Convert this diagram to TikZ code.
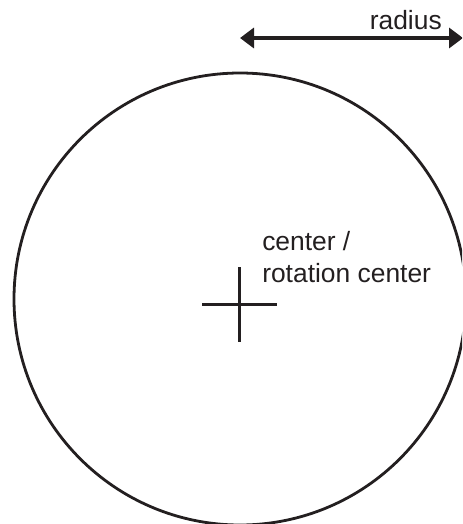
\documentclass[tikz,border=0pt]{standalone}
\usepackage{fontspec}
\setmainfont{Liberation Sans}
\usetikzlibrary{arrows.meta,positioning}
\definecolor{inkc}{HTML}{231F20}
\tikzset{
  lbl/.style={inner sep=0pt,text=inkc,font=\fontsize{19.8}{24}\selectfont},
  ring/.style={draw=inkc,line width=2.1pt,circle,inner sep=0pt},
  tick/.style={draw=inkc,line width=2.2pt},
  ar/.style={{Triangle[length=10.5pt,width=15pt]}-{Triangle[length=10.5pt,width=15pt]},line width=2.8pt,inkc}
}
\begin{document}
\begin{tikzpicture}[x=0.75pt,y=-0.75pt]
\useasboundingbox (0,0) rectangle (462,524);
\clip (0,0) rectangle (462,524);
% circle and its centre mark
\node[ring,minimum size=339pt] (disk) at (240,299) {};
\coordinate (ml) at (202,304.5);
\coordinate (mr) at (277,304.5);
\coordinate (mt) at (239.5,267);
\coordinate (mb) at (239.5,342);
\draw[tick] (ml) -- (mr);
\draw[tick] (mt) -- (mb);
\node[lbl,align=left,anchor=base west] (ctr) at (262,282) {center /\\rotation center};
% radius arrow
\coordinate (rl) at (240,38);
\coordinate (rr) at (463,38);
\draw[ar] (rl) -- (rr);
\node[lbl,anchor=base east] (rad) at (442,30) {radius};
\end{tikzpicture}
\end{document}
